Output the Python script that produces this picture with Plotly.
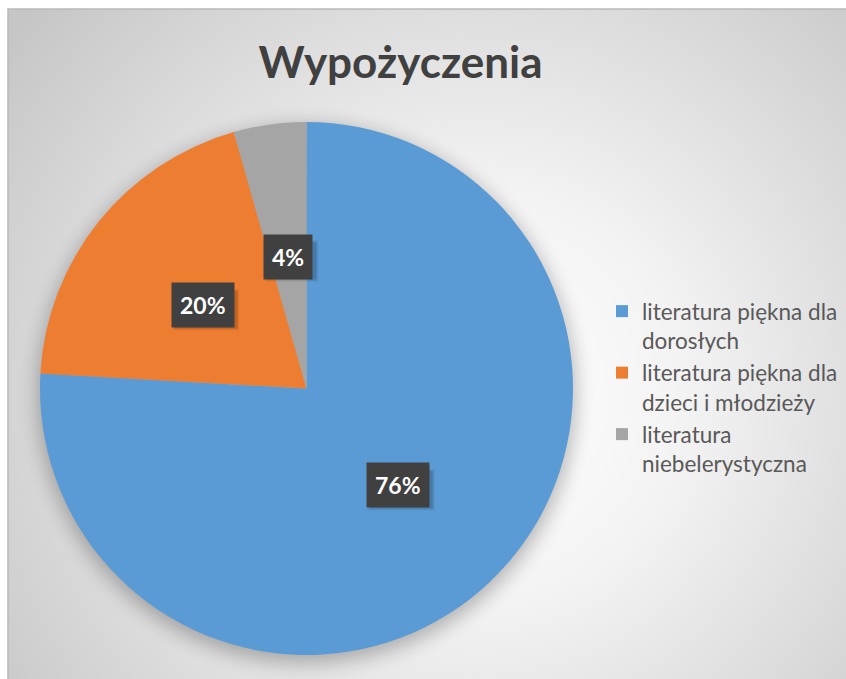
import base64
import math
import plotly.graph_objects as go

# ---- data ----
categories = ["literatura piękna dla<br>dorosłych",
              "literatura piękna dla<br>dzieci i młodzieży",
              "literatura<br>niebelerystyczna"]
values = [75.9, 19.7, 4.4]
colors = ["#5B9BD5", "#ED7D31", "#A5A5A5"]
title_text = "Wypożyczenia"

# ---- layout constants ----
W, H = 846, 679
BX0, BY0 = 8, 9                      # chart area top-left (px)
CX, CY, R = 306.5, 388.5, 266.5      # pie centre / radius (px)
dom_x = [(CX - R) / W, (CX + R) / W]
dom_y = [1 - (CY + R) / H, 1 - (CY - R) / H]

bw, bh = W - BX0 + 20, H - BY0 + 20
svg = f'''<svg xmlns="http://www.w3.org/2000/svg" width="{bw}" height="{bh}" viewBox="0 0 {bw} {bh}">
<defs>
<radialGradient id="g" gradientUnits="userSpaceOnUse" cx="{478-BX0}" cy="{398-BY0}" r="590">
<stop offset="0" stop-color="#ffffff"/>
<stop offset="0.35" stop-color="#f3f3f3"/>
<stop offset="1" stop-color="#c6c6c6"/>
</radialGradient>
<filter id="b" x="-30%" y="-30%" width="160%" height="160%"><feGaussianBlur stdDeviation="10"/></filter>
</defs>
<rect x="0" y="0" width="{bw}" height="{bh}" fill="url(#g)"/>
<circle cx="{CX-BX0}" cy="{CY-BY0+6}" r="{R+2}" fill="#000000" opacity="0.28" filter="url(#b)"/>
</svg>'''
src = "data:image/svg+xml;base64," + base64.b64encode(svg.encode("utf-8")).decode()

fig = go.Figure(go.Pie(
    labels=categories,
    values=values,
    marker=dict(colors=colors, line=dict(width=0)),
    sort=False,
    direction="clockwise",
    rotation=0,
    textinfo="none",
    hoverinfo="label+percent",
    domain=dict(x=dom_x, y=dom_y),
))

# data labels: placed at half-radius along each slice's mid-angle
total = sum(values)
cum = 0.0
annotations = []
shapes = []
for v in values:
    mid = (cum + v / 2) / total * 2 * math.pi
    cum += v
    px = CX + 0.5 * R * math.sin(mid)
    py = CY - 0.5 * R * math.cos(mid)
    xp, yp = px / W, 1 - py / H
    txt = f"{round(v / total * 100):d}%"
    half_w = 12 + 6.5 * len(txt)
    # soft drop shadow of the label box
    for k, a in enumerate([0.07, 0.07, 0.08]):
        shapes.append(dict(type="rect", xref="paper", yref="paper",
                           xsizemode="pixel", ysizemode="pixel",
                           xanchor=xp, yanchor=yp,
                           x0=-half_w + 2 + k, x1=half_w + 5 - k,
                           y0=-19 - 6 + k, y1=19 - 3 - k,
                           fillcolor=f"rgba(0,0,0,{a})", line=dict(width=0),
                           layer="above"))
    annotations.append(dict(x=xp, y=yp, xref="paper", yref="paper", showarrow=False,
                            xanchor="center", yanchor="middle", borderpad=8,
                            text=f"<b>{txt}</b>",
                            font=dict(family="Lato", size=23, color="#ffffff"),
                            bgcolor="#404040"))

# chart-area frame (top and left edges visible)
shapes.append(dict(type="path", xref="paper", yref="paper",
                   path=f"M {BX0 / W},-0.02 L {BX0 / W},{1 - BY0 / H} L 1.02,{1 - BY0 / H}",
                   line=dict(color="#b9b9b9", width=1.5), layer="below"))

fig.update_layout(
    width=W, height=H,
    margin=dict(l=0, r=0, t=0, b=0),
    paper_bgcolor="#ffffff",
    plot_bgcolor="rgba(0,0,0,0)",
    images=[dict(source=src, xref="paper", yref="paper",
                 x=BX0 / W, y=1 - BY0 / H, sizex=bw / W, sizey=bh / H,
                 xanchor="left", yanchor="top", sizing="stretch", layer="below")],
    shapes=shapes,
    title=dict(text=f"<b>{title_text}</b>", x=400.5 / W, xanchor="center",
               y=1 - 63 / H, yanchor="middle",
               font=dict(family="Lato", size=44, color="#404040")),
    legend=dict(x=602 / W, y=1 - 290 / H, xanchor="left", yanchor="top",
                font=dict(family="Lato", size=22.5, color="#595959"),
                bgcolor="rgba(0,0,0,0)", valign="top",
                itemwidth=30, tracegroupgap=0),
    annotations=annotations,
    showlegend=True,
)

fig.write_html("out.html",
               config={"displayModeBar": False},
               post_script="document.body.style.margin='0';"
                           "document.documentElement.style.overflow='hidden';"
                           "document.body.style.overflow='hidden';")
